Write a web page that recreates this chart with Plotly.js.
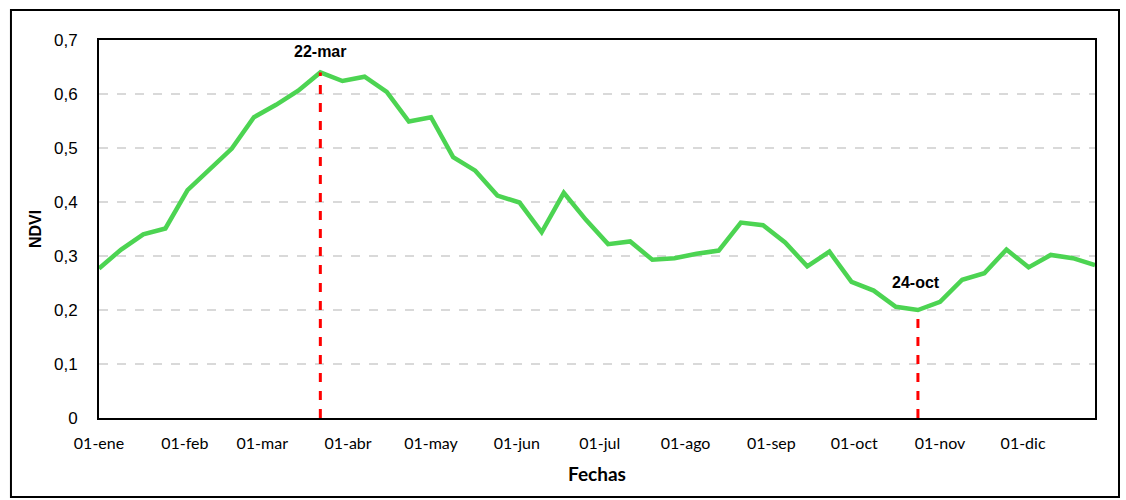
<!DOCTYPE html>
<html>
<head>
<meta charset="utf-8">
<script src="https://cdn.plot.ly/plotly-3.0.1.min.js"></script>
<style>
html,body{margin:0;padding:0;background:#fff;}
#chart{width:1126px;height:500px;}
</style>
</head>
<body>
<div id="chart"></div>
<script>
const dates = [
  "2023-01-01","2023-01-09","2023-01-17","2023-01-25","2023-02-02","2023-02-10","2023-02-18","2023-02-26",
  "2023-03-06","2023-03-14","2023-03-22","2023-03-30","2023-04-07","2023-04-15","2023-04-23","2023-05-01",
  "2023-05-09","2023-05-17","2023-05-25","2023-06-02","2023-06-10","2023-06-18","2023-06-26","2023-07-04",
  "2023-07-12","2023-07-20","2023-07-28","2023-08-05","2023-08-13","2023-08-21","2023-08-29","2023-09-06",
  "2023-09-14","2023-09-22","2023-09-30","2023-10-08","2023-10-16","2023-10-24","2023-11-01","2023-11-09",
  "2023-11-17","2023-11-25","2023-12-03","2023-12-11","2023-12-19","2023-12-27"
];
const ndvi = [
  0.277,0.312,0.340,0.351,0.422,0.461,0.499,0.557,
  0.580,0.606,0.640,0.624,0.632,0.604,0.549,0.557,
  0.483,0.458,0.412,0.399,0.344,0.417,0.367,0.322,
  0.327,0.293,0.296,0.304,0.310,0.362,0.357,0.325,
  0.281,0.308,0.252,0.236,0.206,0.200,0.215,0.256,
  0.268,0.312,0.279,0.302,0.296,0.283
];
const tickDates = ["2023-01-01","2023-02-01","2023-03-01","2023-04-01","2023-05-01","2023-06-01",
                   "2023-07-01","2023-08-01","2023-09-01","2023-10-01","2023-11-01","2023-12-01"];
const tickLabels = ["01-ene","01-feb","01-mar","01-abr","01-may","01-jun",
                    "01-jul","01-ago","01-sep","01-oct","01-nov","01-dic"];
const yTicks = [0,0.1,0.2,0.3,0.4,0.5,0.6,0.7];
const yTickLabels = ["0","0,1","0,2","0,3","0,4","0,5","0,6","0,7"];
const maxDate = "2023-03-22", maxLabel = "22-mar";
const minDate = "2023-10-24", minLabel = "24-oct";

const iMax = dates.indexOf(maxDate), iMin = dates.indexOf(minDate);

const traces = [
  {x:dates, y:ndvi, mode:'lines', line:{color:'#4cd452', width:4.5}, showlegend:false},
  {x:[maxDate,maxDate], y:[0, ndvi[iMax]], mode:'lines', line:{color:'#ff0000', width:3, dash:'dash'}, hoverinfo:'skip', showlegend:false},
  {x:[minDate,minDate], y:[0, ndvi[iMin]], mode:'lines', line:{color:'#ff0000', width:3, dash:'dash'}, hoverinfo:'skip', showlegend:false}
];

const layout = {
  width:1126, height:500,
  margin:{l:99, r:31, t:40, b:82},
  paper_bgcolor:'#ffffff', plot_bgcolor:'#ffffff',
  showlegend:false,
  xaxis:{
    type:'date', range:[dates[0], dates[dates.length-1]],
    tickvals:tickDates, ticktext:tickLabels, ticks:'',
    showgrid:false, zeroline:false,
    showline:true, linecolor:'#000', linewidth:2, mirror:true,
    tickfont:{family:'Lato, sans-serif', size:16, color:'#000'},
    ticklabelstandoff:10,
    title:{text:'<b>Fechas</b>', font:{family:'Lato, sans-serif', size:19, color:'#000'}, standoff:16}
  },
  yaxis:{
    range:[0,0.7], tickvals:yTicks, ticktext:yTickLabels, ticks:'',
    showgrid:true, gridcolor:'#d9d9d9', gridwidth:1.5, griddash:'dash',
    zeroline:false,
    showline:true, linecolor:'#000', linewidth:2, mirror:true,
    tickfont:{family:'Liberation Sans, Arial, sans-serif', size:17, color:'#000'},
    ticklabelstandoff:16,
    title:{text:'<b>NDVI</b>', font:{family:'Liberation Sans, Arial, sans-serif', size:16, color:'#000'}, standoff:8}
  },
  annotations:[
    {x:maxDate, y:ndvi[iMax], text:'<b>'+maxLabel+'</b>', showarrow:false, yshift:21,
     font:{family:'Liberation Sans, Arial, sans-serif', size:16, color:'#000'}},
    {x:minDate, y:ndvi[iMin], text:'<b>'+minLabel+'</b>', showarrow:false, yshift:28, xshift:-2,
     font:{family:'Liberation Sans, Arial, sans-serif', size:16, color:'#000'}}
  ],
  shapes:[
    {type:'rect', xref:'paper', yref:'paper', x0:-0.0884, x1:1.0241, y0:-0.2090, y1:1.0794,
     line:{color:'#000', width:2}, fillcolor:'rgba(0,0,0,0)', layer:'below'}
  ]
};

Plotly.newPlot('chart', traces, layout, {staticPlot:true, displayModeBar:false});
</script>
</body>
</html>
